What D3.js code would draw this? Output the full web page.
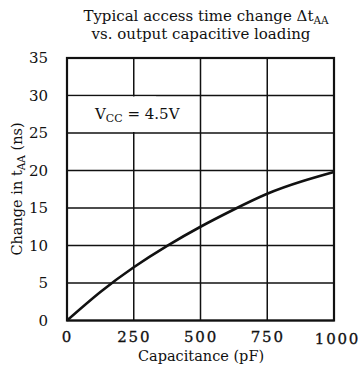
<!DOCTYPE html>
<html><head><meta charset="utf-8">
<script src="https://cdn.jsdelivr.net/npm/d3@7"></script>
<style>body{margin:0;background:#fff}svg{display:block}text{font-family:"DejaVu Serif",serif;fill:#111}</style>
</head><body><svg id="c" width="363" height="375"></svg>
<script>
const capacitance = [0, 125, 250, 375, 500, 625, 750, 875, 1000];
const deltaTaa = [0, 3.8, 7.1, 9.95, 12.5, 14.8, 16.9, 18.5, 19.8];
const xTicks = [0, 250, 500, 750, 1000];
const yTicks = [0, 5, 10, 15, 20, 25, 30, 35];

const svg = d3.select("#c");
const m = {l: 67, r: 334, t: 58, b: 320.5};
const x = d3.scaleLinear().domain([0, 1000]).range([m.l, m.r]);
const y = d3.scaleLinear().domain([0, 35]).range([m.b, m.t]);

// grid
svg.append("g").selectAll("line").data(yTicks).join("line")
  .attr("x1", m.l).attr("x2", m.r).attr("y1", d => y(d)).attr("y2", d => y(d))
  .attr("stroke", "#111").attr("stroke-width", 1.5);
svg.append("g").selectAll("line").data(xTicks).join("line")
  .attr("y1", m.t).attr("y2", m.b).attr("x1", d => x(d)).attr("x2", d => x(d))
  .attr("stroke", "#111").attr("stroke-width", 1.5);

// label box
svg.append("rect").attr("x", x(0) + 1).attr("y", y(30) + 1)
  .attr("width", x(330) - x(0)).attr("height", y(25) - y(30) - 2).attr("fill", "#fff");
const vt = svg.append("text").attr("x", x(0) + 28).attr("y", y(27.5) + 5).attr("font-size", 15);
vt.append("tspan").text("V");
vt.append("tspan").attr("font-size", 11).attr("dy", 3).text("CC");
vt.append("tspan").attr("dy", -3).text(" = 4.5V");

// frame
svg.append("rect").attr("x", m.l).attr("y", m.t).attr("width", m.r - m.l).attr("height", m.b - m.t)
  .attr("fill", "none").attr("stroke", "#111").attr("stroke-width", 2.2);

// curve
const pts = capacitance.map((c, i) => [c, deltaTaa[i]]);
svg.append("path").datum(pts)
  .attr("d", d3.line().x(d => x(d[0])).y(d => y(d[1])).curve(d3.curveNatural))
  .attr("fill", "none").attr("stroke", "#111").attr("stroke-width", 2.6);

// axes
const xa = svg.append("g").attr("transform", `translate(0,${m.b})`)
  .call(d3.axisBottom(x).tickValues(xTicks).tickFormat(d3.format("d")).tickSize(0).tickPadding(11));
xa.select(".domain").remove();
xa.selectAll("text").attr("font-size", 15).attr("font-family", "Liberation Serif").attr("fill", "#111")
  .attr("letter-spacing", 1.8).attr("stroke", "#111").attr("stroke-width", 0.3);
xa.selectAll("text").filter(d => d === 1000).attr("dx", 3).attr("dy", "0.85em");
const ya = svg.append("g").attr("transform", `translate(${m.l},0)`)
  .call(d3.axisLeft(y).tickValues(yTicks).tickSize(0).tickPadding(19));
ya.select(".domain").remove();
ya.selectAll("text").attr("font-size", 15).attr("font-family", "Liberation Serif").attr("fill", "#111");

// titles
svg.append("text").attr("x", 201).attr("y", 361).attr("text-anchor", "middle").attr("font-size", 14.5)
  .text("Capacitance (pF)");
const yl = svg.append("text").attr("transform", "translate(22,189) rotate(-90)")
  .attr("text-anchor", "middle").attr("font-size", 14.5);
yl.append("tspan").text("Change in t");
yl.append("tspan").attr("font-size", 10.5).attr("dy", 3).text("AA");
yl.append("tspan").attr("dy", -3).text(" (ns)");

const t1 = svg.append("text").attr("x", 206).attr("y", 21).attr("text-anchor", "middle").attr("font-size", 15);
t1.append("tspan").text("Typical access time change \u0394t");
t1.append("tspan").attr("font-size", 10.5).attr("dy", 3).text("AA");
svg.append("text").attr("x", 201).attr("y", 39).attr("text-anchor", "middle").attr("font-size", 15)
  .text("vs. output capacitive loading");
</script></body></html>
